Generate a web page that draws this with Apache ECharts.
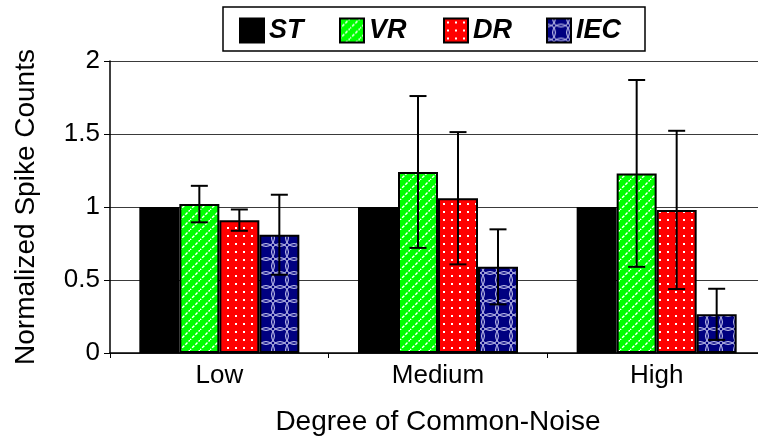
<!DOCTYPE html>
<html>
<head>
<meta charset="utf-8">
<script src="https://cdn.jsdelivr.net/npm/echarts@6/dist/echarts.min.js"></script>
<style>
html,body{margin:0;padding:0;background:#fff;overflow:hidden;width:758px;height:443px;}
#chart{width:772px;height:443px;}
</style>
</head>
<body>
<div id="chart"></div>
<script>
// ---- data ----
const categories = ['Low', 'Medium', 'High'];
const seriesNames = ['ST', 'VR', 'DR', 'IEC'];
const stValues = [1.0, 1.0, 1.0];
const vrValues = [1.02, 1.24, 1.23];
const drValues = [0.91, 1.06, 0.98];
const iecValues = [0.81, 0.59, 0.265];
const stErr = [null, null, null];
const vrErr = [0.125, 0.52, 0.64];
const drErr = [0.073, 0.453, 0.542];
const iecErr = [0.274, 0.257, 0.175];
const yTicks = [0, 0.5, 1, 1.5, 2];

// ---- styles ----
const FONT = '"Liberation Sans", Arial, Helvetica, sans-serif';
const BAR_W = 40;

function makePattern(size, bg, draw) {
  const c = document.createElement('canvas');
  c.width = size; c.height = size;
  const ctx = c.getContext('2d');
  ctx.fillStyle = bg;
  ctx.fillRect(0, 0, size, size);
  draw(ctx, size);
  return { image: c, repeat: 'repeat' };
}
const vrPattern = makePattern(10, '#00ff00', (ctx, s) => {
  ctx.strokeStyle = '#ffffff';
  ctx.lineWidth = 1.4;
  ctx.setLineDash([3, 1.5]);
  ctx.beginPath();
  ctx.moveTo(-1, s + 1); ctx.lineTo(s + 1, -1);
  ctx.stroke();
});
const drPattern = makePattern(8, '#ff0000', (ctx, s) => {
  ctx.fillStyle = '#ffffff';
  ctx.fillRect(3, 3, 2, 2);
});
const iecPattern = makePattern(14, '#000080', (ctx, s) => {
  ctx.strokeStyle = '#d8d8f8';
  ctx.lineWidth = 1;
  const r = s * 0.6;
  [[0, 0], [s, 0], [0, s], [s, s]].forEach(p => {
    ctx.beginPath();
    ctx.arc(p[0], p[1], r, 0, Math.PI * 2);
    ctx.stroke();
  });
});
const fills = ['#000000', vrPattern, drPattern, iecPattern];
const valueSets = [stValues, vrValues, drValues, iecValues];
const errSets = [stErr, vrErr, drErr, iecErr];

const barSeries = seriesNames.map((name, i) => ({
  name: name,
  type: 'bar',
  barWidth: BAR_W,
  barGap: '0%',
  data: valueSets[i],
  itemStyle: { color: fills[i], borderColor: '#000', borderWidth: 2 },
  emphasis: { disabled: true },
  z: 2
}));

const errData = [];
errSets.forEach((errs, si) => {
  errs.forEach((e, ci) => {
    if (e != null) errData.push([ci, valueSets[si][ci], e, si]);
  });
});

const errSeries = {
  type: 'custom',
  data: errData,
  z: 5,
  silent: true,
  renderItem: function (params, api) {
    const ci = api.value(0), v = api.value(1), e = api.value(2), si = api.value(3);
    const off = (si - 1.5) * BAR_W;
    const hi = api.coord([ci, v + e]);
    const lo = api.coord([ci, v - e]);
    const x = hi[0] + off;
    const cap = 8.5;
    const st = { stroke: '#000', lineWidth: 2 };
    return {
      type: 'group',
      children: [
        { type: 'line', shape: { x1: x, y1: hi[1], x2: x, y2: lo[1] }, style: st },
        { type: 'line', shape: { x1: x - cap, y1: hi[1], x2: x + cap, y2: hi[1] }, style: st },
        { type: 'line', shape: { x1: x - cap, y1: lo[1], x2: x + cap, y2: lo[1] }, style: st }
      ]
    };
  }
};

// separate legends, one per item, to match reference spacing
const legendLefts = [239, 339, 443, 546];
const legends = seriesNames.map((name, i) => ({
  data: [name],
  left: legendLefts[i],
  top: 17,
  padding: 0,
  itemWidth: 24,
  itemHeight: 24,
  icon: 'rect',
  selectedMode: false,
  textStyle: { fontFamily: FONT, fontSize: 27, fontWeight: 'bold', fontStyle: 'italic', color: '#000' }
}));

const chart = echarts.init(document.getElementById('chart'), null, { renderer: 'canvas' });
chart.setOption({
  animation: false,
  backgroundColor: '#fff',
  graphic: [{
    type: 'rect',
    z: 0,
    shape: { x: 223, y: 7, width: 422, height: 44 },
    style: { fill: '#fff', stroke: '#000', lineWidth: 1.5 }
  }],
  legend: legends,
  grid: { left: 110, top: 61, width: 656, height: 292, containLabel: false },
  xAxis: {
    type: 'category',
    data: categories,
    name: 'Degree of Common-Noise',
    nameLocation: 'middle',
    nameGap: 55,
    nameTextStyle: { fontFamily: FONT, fontSize: 28, color: '#000' },
    axisLine: { lineStyle: { color: '#000', width: 1.5 } },
    axisTick: { show: true, alignWithLabel: false, length: 5, lineStyle: { color: '#000' } },
    axisLabel: { fontFamily: FONT, fontSize: 26, color: '#000', margin: 10 }
  },
  yAxis: {
    type: 'value',
    min: yTicks[0],
    max: yTicks[yTicks.length - 1],
    interval: yTicks[1] - yTicks[0],
    name: 'Normalized Spike Counts',
    nameLocation: 'middle',
    nameGap: 70,
    nameTextStyle: { fontFamily: FONT, fontSize: 28, color: '#000' },
    axisLine: { show: true, lineStyle: { color: '#000', width: 1.5 } },
    axisTick: { show: true, length: 6, lineStyle: { color: '#000' } },
    axisLabel: { fontFamily: FONT, fontSize: 26, color: '#000', margin: 10 },
    splitLine: { show: true, lineStyle: { color: '#3a3a3a', width: 1 } }
  },
  series: barSeries.concat([errSeries])
});
</script>
</body>
</html>
